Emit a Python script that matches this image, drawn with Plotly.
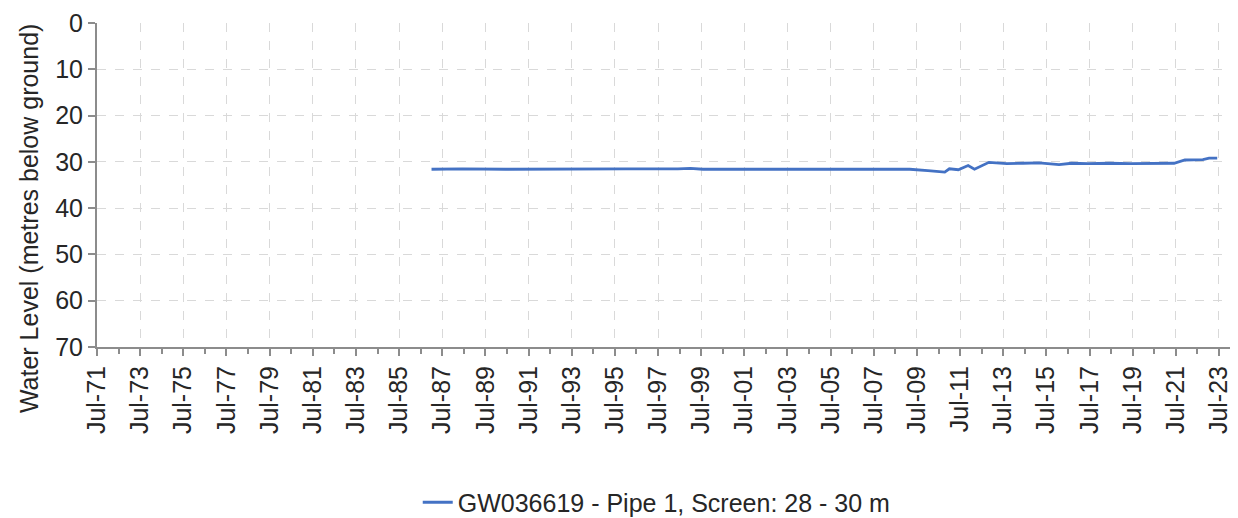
import plotly.graph_objects as go

# Observation dates and water levels (metres below ground)
dates = ["1987-01-01", "1988-06-01", "1990-06-01", "1993-01-01", "1996-01-01",
         "1998-06-01", "1999-01-01", "1999-08-01", "2002-01-01", "2005-01-01",
         "2008-01-01", "2009-03-01", "2010-01-01", "2010-10-15", "2011-01-01",
         "2011-06-01", "2011-11-15", "2012-03-01", "2012-11-01", "2013-09-01",
         "2014-06-01", "2015-03-01", "2016-02-01", "2016-09-01", "2017-06-01",
         "2018-06-01", "2019-06-01", "2020-06-01", "2021-06-01", "2021-12-01",
         "2022-05-01", "2022-10-01", "2023-01-15", "2023-06-01"]
levels = [31.6, 31.5, 31.6, 31.5, 31.5,
          31.5, 31.4, 31.6, 31.6, 31.6,
          31.6, 31.6, 31.9, 32.2, 31.5,
          31.7, 30.8, 31.6, 30.1, 30.4,
          30.3, 30.2, 30.6, 30.3, 30.4,
          30.3, 30.4, 30.4, 30.3, 29.6,
          29.6, 29.5, 29.2, 29.2]

series_name = "GW036619 - Pipe 1, Screen: 28 - 30 m"
y_title = "Water Level (metres below ground)"

tick_labels = ["Jul-71", "Jul-73", "Jul-75", "Jul-77", "Jul-79", "Jul-81", "Jul-83",
               "Jul-85", "Jul-87", "Jul-89", "Jul-91", "Jul-93", "Jul-95", "Jul-97",
               "Jul-99", "Jul-01", "Jul-03", "Jul-05", "Jul-07", "Jul-09", "Jul-11",
               "Jul-13", "Jul-15", "Jul-17", "Jul-19", "Jul-21", "Jul-23"]
tick_dates = []
for lab in tick_labels:
    yy = int(lab[-2:])
    year = 1900 + yy if yy > 50 else 2000 + yy
    tick_dates.append(f"{year}-07-01")

y_ticks = [0, 10, 20, 30, 40, 50, 60, 70]

font_family = "Liberation Sans, Arial, sans-serif"
text_color = "#262626"
axis_color = "#8c8c8c"
grid_color = "#d9d9d9"
fs = 25

fig = go.Figure()
fig.add_trace(go.Scatter(
    x=dates, y=levels, mode="lines", name=series_name,
    line=dict(color="#4472C4", width=2.8),
))

fig.update_layout(
    width=1230, height=510,
    margin=dict(l=89, r=1, t=15, b=171, autoexpand=False),
    paper_bgcolor="white", plot_bgcolor="white",
    font=dict(family=font_family, size=fs, color=text_color),
    showlegend=True,
    legend=dict(orientation="h", x=0.491, xanchor="center",
                yref="paper", y=-0.480, yanchor="middle",
                font=dict(size=fs, color=text_color),
                bgcolor="rgba(0,0,0,0)"),
    annotations=[dict(text=y_title, textangle=-90, showarrow=False,
                      xref="paper", yref="paper", x=-0.0596, y=0.398,
                      xanchor="center", yanchor="middle",
                      font=dict(size=fs, color=text_color))],
)

fig.update_xaxes(
    type="date",
    range=["1971-07-01", "2024-05-01"],
    tickmode="array", tickvals=tick_dates, ticktext=tick_labels,
    tickangle=-90,
    tickfont=dict(size=fs, color=text_color),
    ticks="outside", ticklen=7, tickcolor=axis_color, tickwidth=1.5,
    showline=True, linecolor=axis_color, linewidth=2,
    showgrid=True, gridcolor=grid_color, griddash="dash", gridwidth=1,
    minor=dict(ticks="outside", ticklen=5, tickcolor=axis_color,
               dtick="M12", tick0="1972-07-01", showgrid=False),
    zeroline=False, automargin=False,
)

fig.update_yaxes(
    range=[70, 0],
    tickmode="array", tickvals=y_ticks,
    tickfont=dict(size=fs, color=text_color),
    ticks="outside", ticklen=7, tickcolor=axis_color, tickwidth=1.5,
    showline=True, linecolor=axis_color, linewidth=2,
    showgrid=True, gridcolor=grid_color, griddash="dash", gridwidth=1,
    zeroline=False, automargin=False,
)

fig.write_html("out.html")
